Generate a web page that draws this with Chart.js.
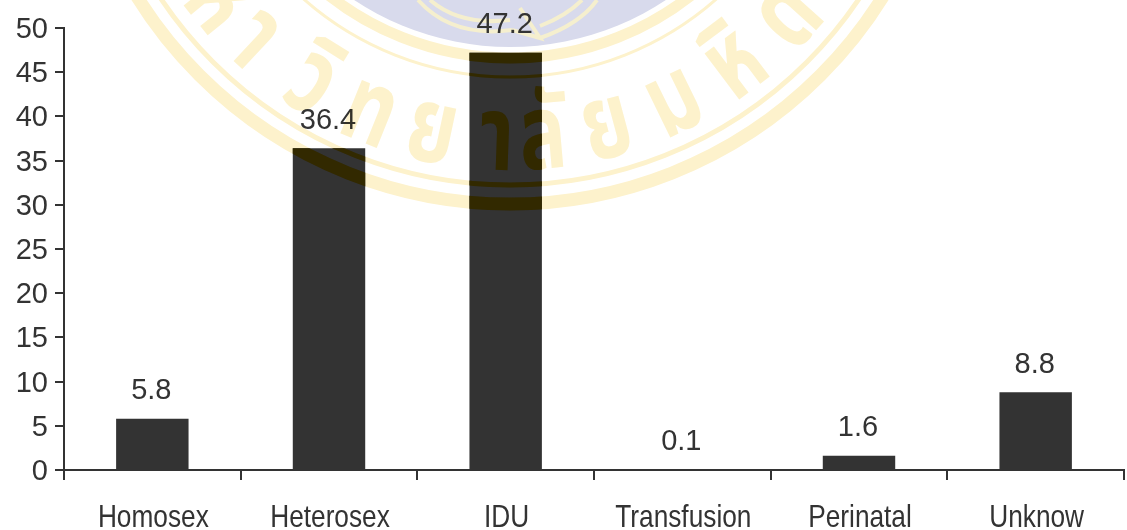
<!DOCTYPE html>
<html>
<head>
<meta charset="utf-8">
<title>Transmission</title>
<script src="https://cdn.jsdelivr.net/npm/chart.js@4/dist/chart.umd.min.js"></script>
<style>
  html,body{margin:0;padding:0;background:#fff;overflow:hidden}
  canvas{display:block}
</style>
</head>
<body>
<canvas id="chart" width="1127" height="530"></canvas>
<script>
var categories=['Homosex','Heterosex','IDU','Transfusion','Perinatal','Unknow'];
var values=[5.8,36.4,47.2,0.1,1.6,8.8];
var sealLetters=['ห','า','วิ','ท','ย','า','ลั','ย','ม','หิ','ด','ล'];
var sealAngles=[51,43,32,22,12,2,-5,-15,-26,-37,-48,-58];

var INK='#333333';
var FONT='"Liberation Sans", Arial, sans-serif';
var SEAL_X=510, SEAL_Y=-235;

function drawRings(ctx,color){
  ctx.strokeStyle=color;
  [[439,13],[420,5],[312,3],[293,11]].forEach(function(r){
    ctx.lineWidth=r[1];
    ctx.beginPath(); ctx.arc(SEAL_X,SEAL_Y,r[0],0,Math.PI*2); ctx.stroke();
  });
}

function drawLetters(ctx,color){
  ctx.fillStyle=color;
  ctx.font='bold 105px "Noto Sans Thai","Noto Sans",sans-serif';
  ctx.textAlign='center';
  ctx.textBaseline='alphabetic';
  sealLetters.forEach(function(ch,i){
    var a=sealAngles[i]*Math.PI/180;
    ctx.save();
    ctx.translate(SEAL_X-Math.sin(a)*405,SEAL_Y+Math.cos(a)*405);
    ctx.rotate(a);
    ctx.scale(0.75,1);
    ctx.fillText(ch,0,0);
    ctx.restore();
  });
}

// emblem strokes at the foot of the blue disc
function drawEmblem(ctx,color){
  ctx.strokeStyle=color;
  ctx.lineWidth=4;
  [[418,0,452,38,512,30],[430,0,460,26,510,20]].forEach(function(p){
    ctx.beginPath(); ctx.moveTo(p[0],p[1]); ctx.quadraticCurveTo(p[2],p[3],p[4],p[5]); ctx.stroke();
  });
  [[597,0,580,24,540,38],[582,0,566,16,540,26]].forEach(function(p){
    ctx.beginPath(); ctx.moveTo(p[0],p[1]); ctx.quadraticCurveTo(p[2],p[3],p[4],p[5]); ctx.stroke();
  });
  ctx.beginPath(); ctx.moveTo(512,30); ctx.lineTo(540,38); ctx.lineTo(520,8); ctx.stroke();
}

// blue disc of the seal sits behind the bars and labels
var sealDisc={
  id:'sealDisc',
  beforeDatasetsDraw:function(chart){
    var ctx=chart.ctx;
    ctx.save();
    ctx.fillStyle='#d8daec';
    ctx.beginPath(); ctx.arc(SEAL_X,SEAL_Y,282,0,Math.PI*2); ctx.fill();
    drawEmblem(ctx,'#f5efce');
    ctx.restore();
  }
};

// rings and letters are printed over everything
var sealPrint={
  id:'sealPrint',
  afterDraw:function(chart){
    var ctx=chart.ctx;
    ctx.save();
    ctx.globalCompositeOperation='multiply';
    drawRings(ctx,'#fdf2cc');
    drawLetters(ctx,'#fdf2cc');
    ctx.restore();
    // where the print crosses a bar it shows a deep brown
    ctx.save();
    ctx.beginPath();
    chart.getDatasetMeta(0).data.forEach(function(bar){
      var p=bar.getProps(['x','y','base','width'],true);
      ctx.rect(p.x-p.width/2,p.y,p.width,p.base-p.y);
    });
    ctx.clip();
    drawRings(ctx,'#322900');
    drawLetters(ctx,'#322900');
    ctx.restore();
  }
};

// value above each bar, condensed category names under the axis
var textLabels={
  id:'textLabels',
  afterDatasetsDraw:function(chart){
    var ctx=chart.ctx, xScale=chart.scales.x;
    ctx.save();
    ctx.fillStyle=INK;
    ctx.font='29px '+FONT;
    ctx.textAlign='center';
    ctx.textBaseline='bottom';
    chart.getDatasetMeta(0).data.forEach(function(bar,i){
      ctx.fillText(String(values[i]),bar.x-1,bar.y-13);
    });
    ctx.font='32px '+FONT;
    ctx.textBaseline='alphabetic';
    categories.forEach(function(name,i){
      ctx.save();
      ctx.translate(xScale.getPixelForValue(i)+1,xScale.top+57);
      ctx.scale(0.82,1);
      ctx.fillText(name,0,0);
      ctx.restore();
    });
    ctx.restore();
  }
};

new Chart(document.getElementById('chart').getContext('2d'),{
  type:'bar',
  data:{labels:categories,datasets:[{data:values,backgroundColor:INK,borderWidth:0,barPercentage:0.41,categoryPercentage:1}]},
  options:{
    responsive:false,
    animation:false,
    layout:{padding:{top:28,right:3,left:0,bottom:0}},
    plugins:{legend:{display:false},tooltip:{enabled:false}},
    scales:{
      x:{
        afterFit:function(s){ s.height=60; },
        border:{color:INK,width:2},
        grid:{drawOnChartArea:false,color:INK,lineWidth:2,tickLength:10},
        ticks:{display:false,autoSkip:false}
      },
      y:{
        min:0,max:50,
        afterFit:function(s){ s.width=64; },
        border:{color:INK,width:2},
        grid:{drawOnChartArea:false,color:INK,lineWidth:2,tickLength:9},
        ticks:{color:INK,stepSize:5,font:{family:FONT,size:29},padding:7,labelOffset:2}
      }
    }
  },
  plugins:[sealDisc,textLabels,sealPrint]
});
</script>
</body>
</html>
